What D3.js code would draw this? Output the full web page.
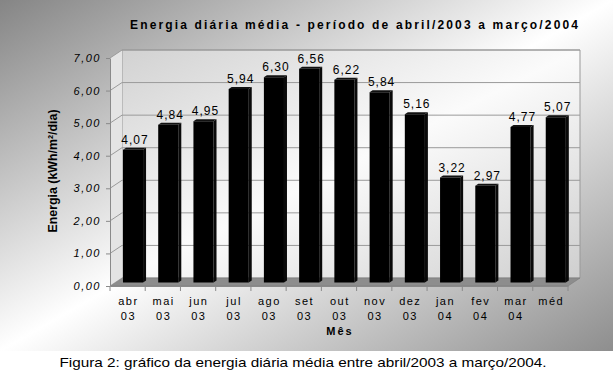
<!DOCTYPE html>
<html>
<head>
<meta charset="utf-8">
<script src="https://cdn.jsdelivr.net/npm/d3@7"></script>
<style>
  body { margin: 0; background: #fff; }
  svg { display: block; font-family: "Liberation Sans", Arial, sans-serif; }
</style>
</head>
<body>
<div id="container"></div>
<script>
/* DATA */
const categories = ["abr", "mai", "jun", "jul", "ago", "set", "out", "nov", "dez", "jan", "fev", "mar", "méd"];
const years      = ["03", "03", "03", "03", "03", "03", "03", "03", "03", "04", "04", "04", ""];
const energia    = [4.07, 4.84, 4.95, 5.94, 6.30, 6.56, 6.22, 5.84, 5.16, 3.22, 2.97, 4.77, 5.07];
const yTicks     = [0, 1, 2, 3, 4, 5, 6, 7];

const titleText   = "Energia diária média - período de abril/2003 a março/2004";
const yLabelText  = "Energia (kWh/m²/dia)";
const xLabelText  = "Mês";
const captionText = "Figura 2: gráfico da energia diária média entre abril/2003 a março/2004.";

/* CONSTANTS */
const width = 615, height = 376;
const plot = {left: 110, right: 568, top: 58, bottom: 286};
const depth = {dx: 12, dy: -8};      // offset of back wall from front plane
const barZ = [0.45, 0.7];             // bar front / back as fraction of depth

const ptBr = d3.formatLocale({decimal: ",", thousands: ".", grouping: [3], currency: ["R$", ""]});
const fmt = ptBr.format(".2f");

/* SCALES */
const xOuter = d3.scaleBand().domain(categories).range([plot.left, plot.right]).padding(0);
const xScale = d3.scaleBand().domain(categories).range([plot.left, plot.right])
  .paddingInner(0.43).paddingOuter(0.215);
const yScale = d3.scaleLinear().domain([0, 7]).range([plot.bottom, plot.top]);

// project a point on the front plane back by fraction f of the depth
const P = (x, v, f) => [x + f * depth.dx, yScale(v) + f * depth.dy];
const poly = pts => pts.map(p => p.join(",")).join(" ");

/* SVG */
const svg = d3.select("#container").append("svg")
  .attr("width", width)
  .attr("height", height);

const defs = svg.append("defs");
const panelGrad = defs.append("linearGradient").attr("id", "panelGrad")
  .attr("x1", 0).attr("y1", 0).attr("x2", 1).attr("y2", 1);
panelGrad.append("stop").attr("offset", 0).attr("stop-color", "#858585");
panelGrad.append("stop").attr("offset", 0.5).attr("stop-color", "#ffffff");
panelGrad.append("stop").attr("offset", 1).attr("stop-color", "#8e8e8e");

const wallGrad = defs.append("linearGradient").attr("id", "wallGrad")
  .attr("x1", 0).attr("y1", 0).attr("x2", 1).attr("y2", 1);
wallGrad.append("stop").attr("offset", 0).attr("stop-color", "#d2d2d2");
wallGrad.append("stop").attr("offset", 0.5).attr("stop-color", "#fbfbfb");
wallGrad.append("stop").attr("offset", 1).attr("stop-color", "#cfcfcf");

// chart panel
svg.append("rect")
  .attr("x", 0).attr("y", 0)
  .attr("width", 613).attr("height", 351)
  .attr("fill", "url(#panelGrad)");

// walls
const xL = plot.left, xR = plot.right;
svg.append("polygon")
  .attr("points", poly([P(xL, 0, 1), P(xR, 0, 1), P(xR, 7, 1), P(xL, 7, 1)]))
  .attr("fill", "url(#wallGrad)")
  .attr("stroke", "#999").attr("stroke-width", 1);

svg.append("polygon")
  .attr("points", poly([P(xL, 0, 0), P(xL, 0, 1), P(xL, 7, 1), P(xL, 7, 0)]))
  .attr("fill", "#e4e4e4");

// gridlines (left wall + back wall)
svg.append("g")
  .selectAll("polyline")
  .data(yTicks.filter(t => t > 0))
  .join("polyline")
    .attr("points", t => poly([P(xL, t, 0), P(xL, t, 1), P(xR, t, 1)]))
    .attr("fill", "none")
    .attr("stroke", "#9a9a9a")
    .attr("stroke-width", 1);

// floor
svg.append("polygon")
  .attr("points", poly([P(xL, 0, 0), P(xR, 0, 0), P(xR, 0, 1), P(xL, 0, 1)]))
  .attr("fill", "#8d8d8d")
  .attr("stroke", "#7a7a7a").attr("stroke-width", 0.6);

// bars
const bw = xScale.bandwidth();
const bars = svg.append("g")
  .selectAll("g")
  .data(categories.map((c, i) => ({c, v: energia[i]})))
  .join("g");

bars.append("polygon") // side
  .attr("points", d => {
    const x1 = xScale(d.c) + bw;
    return poly([P(x1, 0, barZ[0]), P(x1, 0, barZ[1]), P(x1, d.v, barZ[1]), P(x1, d.v, barZ[0])]);
  })
  .attr("fill", "#0a0a0a");

bars.append("polygon") // top
  .attr("points", d => {
    const x0 = xScale(d.c), x1 = x0 + bw;
    return poly([P(x0, d.v, barZ[0]), P(x1, d.v, barZ[0]), P(x1, d.v, barZ[1]), P(x0, d.v, barZ[1])]);
  })
  .attr("fill", "#111");

bars.append("polygon") // front
  .attr("points", d => {
    const x0 = xScale(d.c), x1 = x0 + bw;
    return poly([P(x0, 0, barZ[0]), P(x1, 0, barZ[0]), P(x1, d.v, barZ[0]), P(x0, d.v, barZ[0])]);
  })
  .attr("fill", "#000");

// data labels
bars.append("text")
  .attr("x", d => xScale(d.c) + bw / 2 + (barZ[0] + barZ[1]) / 2 * depth.dx + 0.5)
  .attr("y", d => yScale(d.v) + barZ[1] * depth.dy - 4)
  .attr("text-anchor", "middle")
  .attr("font-size", 12)
  .attr("letter-spacing", 1)
  .attr("fill", "#000")
  .text(d => fmt(d.v));

// y axis
const yAxis = d3.axisLeft(yScale)
  .tickValues(yTicks)
  .tickSize(4)
  .tickSizeOuter(0)
  .tickPadding(5)
  .tickFormat(fmt);

const yAxisGroup = svg.append("g")
  .attr("transform", `translate(${plot.left},0)`)
  .call(yAxis);
yAxisGroup.select(".domain").attr("stroke", "#8a8a8a");
yAxisGroup.selectAll(".tick line").attr("stroke", "#8a8a8a");
yAxisGroup.selectAll(".tick text")
  .attr("font-family", "'Liberation Sans', Arial, sans-serif")
  .attr("font-size", 11)
  .attr("font-style", "italic")
  .attr("letter-spacing", 1.5)
  .attr("fill", "#000");

// x axis
const xAxisGroup = svg.append("g")
  .attr("transform", `translate(0,${plot.bottom})`)
  .call(d3.axisBottom(xOuter).tickSize(0).tickSizeOuter(0).tickFormat(""));
xAxisGroup.select(".domain").attr("stroke", "#8a8a8a");

xAxisGroup.selectAll(".bound")
  .data([...categories.map(c => xOuter(c)), plot.right])
  .join("line")
    .attr("class", "bound")
    .attr("x1", d => d).attr("x2", d => d)
    .attr("y1", 0).attr("y2", 5)
    .attr("stroke", "#8a8a8a");

const xLabels = svg.append("g")
  .selectAll("text")
  .data(categories.map((c, i) => ({c, y: years[i]})))
  .join("text")
    .attr("text-anchor", "middle")
    .attr("font-size", 11)
    .attr("letter-spacing", 1.5)
    .attr("fill", "#000");
xLabels.append("tspan")
  .attr("x", d => xOuter(d.c) + xOuter.bandwidth() / 2 + 0.8)
  .attr("y", 305)
  .text(d => d.c);
xLabels.append("tspan")
  .attr("x", d => xOuter(d.c) + xOuter.bandwidth() / 2 + 0.8)
  .attr("y", 320)
  .text(d => d.y);

// titles
svg.append("text")
  .attr("x", 354).attr("y", 29)
  .attr("text-anchor", "middle")
  .attr("font-size", 12)
  .attr("font-weight", "bold")
  .attr("textLength", 448)
  .attr("lengthAdjust", "spacing")
  .text(titleText);

svg.append("text")
  .attr("transform", "translate(57,171) rotate(-90)")
  .attr("text-anchor", "middle")
  .attr("font-size", 12)
  .attr("font-weight", "bold")
  .attr("textLength", 123)
  .attr("lengthAdjust", "spacingAndGlyphs")
  .text(yLabelText);

svg.append("text")
  .attr("x", 340).attr("y", 335)
  .attr("text-anchor", "middle")
  .attr("font-size", 11)
  .attr("font-weight", "bold")
  .attr("letter-spacing", 2)
  .text(xLabelText);

svg.append("text")
  .attr("x", 303).attr("y", 367)
  .attr("text-anchor", "middle")
  .attr("font-size", 13.5)
  .attr("textLength", 487)
  .attr("lengthAdjust", "spacingAndGlyphs")
  .text(captionText);
</script>
</body>
</html>
